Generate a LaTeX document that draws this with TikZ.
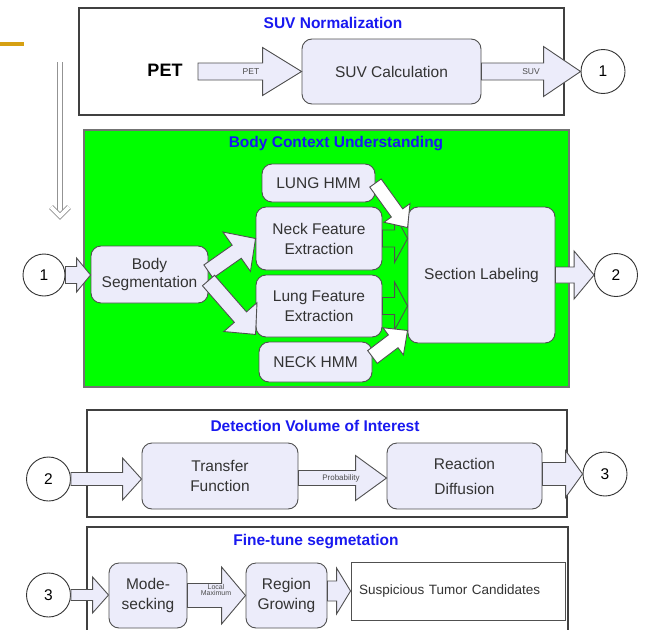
\documentclass[tikz,border=0pt]{standalone}
\usepackage{fontspec}
\setmainfont{Liberation Sans}
\usetikzlibrary{arrows.meta,positioning,calc}

\definecolor{lav}{RGB}{236,236,250}
\definecolor{ttlblue}{RGB}{25,25,240}
\definecolor{bodygreen}{RGB}{0,255,0}
\definecolor{edge}{RGB}{80,80,80}
\definecolor{gold}{RGB}{214,160,18}

\newcommand{\boxfont}{\fontsize{15.5pt}{20pt}\selectfont}
\newcommand{\ttlfont}{\fontsize{15.5pt}{18pt}\selectfont\bfseries}
\newcommand{\tagfont}{\fontsize{8.5pt}{9pt}\selectfont}

\tikzset{
  fatshaft/.store in=\fatsw, fathead/.store in=\fathw, fatlen/.store in=\fathl,
  fatshaft=8pt, fathead=24pt, fatlen=22pt,
  % fat block arrow, drawn as one outline from start to target
  fat/.style={draw=edge, line width=0.9pt, line join=miter, fill=lav, to path={
    let \p1=(\tikztostart), \p2=(\tikztotarget),
        \n1={atan2(\y2-\y1,\x2-\x1)}, \n2={veclen(\x2-\x1,\y2-\y1)},
        \n3={\n1+180-atan2(\fathw,\fathl)}, \n4={veclen(\fathw,\fathl)} in
    (\p1) ++(\n1-90:\fatsw) -- ++(\n1:{\n2-\fathl}) -- ++(\n1-90:{\fathw-\fatsw})
    -- (\p2) -- ++(\n3:\n4) -- ++(\n1-90:{\fathw-\fatsw}) -- ++(\n1+180:{\n2-\fathl}) -- cycle}},
  stage/.style={draw=black!75, line width=1.1pt, fill=white, inner sep=0pt, outer sep=0pt},
  proc/.style={draw=edge, line width=0.9pt, fill=lav, rounded corners=10pt,
    align=center, font=\boxfont, text=black!80, inner sep=0pt},
  outcome/.style={draw=edge, line width=0.9pt, fill=white, align=left,
    font=\fontsize{13.5pt}{16pt}\selectfont, text=black!80, inner xsep=8pt, inner ysep=0pt},
  conn/.style={draw=black!80, line width=0.9pt, fill=white, circle, minimum size=44pt,
    inner sep=0pt, font=\boxfont},
  ttl/.style={text=ttlblue, font=\ttlfont},
  tag/.style={text=black!70, font=\tagfont},
  flow/.style={draw=gray!85, line width=0.9pt, double=white, double distance=3.6pt,
    line join=miter}
}

\begin{document}
\begin{tikzpicture}[x=1pt, y=-1pt]
\useasboundingbox (0,0) rectangle (645,629);
\clip (0,0) rectangle (645,629);

\coordinate (barL) at (0,44);
\coordinate (barR) at (24,44);
\draw [gold, line width=4pt] (barL) -- (barR);

% downward flow marker
\coordinate (flowtop) at (60,62);
\coordinate (flowbot) at (60,216);
\draw [flow] (flowtop) -- ($(flowbot)+(0,-3)$);
\draw [flow] ($(flowbot)+(-9,-9)$) -- (flowbot) -- ($(flowbot)+(9,-9)$);

%% SUV normalization
\node (normbox) [stage, minimum width=485pt, minimum height=107pt] at (321.5,61.5) {};
\node (normT) [ttl] at (333,23) {SUV Normalization};
\node (petlbl) [font=\fontsize{18pt}{20pt}\selectfont\bfseries] at (165,70) {PET};
\coordinate (petin) at (198,71.5);
\node (suvcalc) [proc, minimum width=179pt, minimum height=65pt] at (391.5,71.5) {SUV Calculation};
\node (c1) [conn] at (603,71.5) {1};

\draw [fat, fatshaft=8.5pt, fathead=24pt, fatlen=39pt] (petin) to (suvcalc.west);
\draw [fat, fatshaft=8.5pt, fathead=25pt, fatlen=37pt] (suvcalc.east) to (c1.west);
\node (pettag) [tag] at (251,72) {PET};
\node (suvtag) [tag] at (531,72) {SUV};

%% body context
\node (bodybox) [stage, draw=black!55, fill=bodygreen, line width=1.6pt,
  minimum width=485pt, minimum height=257pt] at (326.5,258.5) {};
\node (bodyT) [ttl] at (336,144) {Body Context Understanding};
\node (c1b) [conn, minimum size=42pt] at (44,275) {1};
\node (bodyseg) [proc, minimum width=117pt, minimum height=57pt,
  font=\fontsize{15.5pt}{18pt}\selectfont] at (149.5,274.5) {Body\\Segmentation};
\node (lunghmm) [proc, minimum width=113pt, minimum height=38pt] at (318.5,183) {LUNG HMM};
\node (neckfe) [proc, minimum width=126pt, minimum height=63pt] at (319,238.5) {Neck Feature\\Extraction};
\node (lungfe) [proc, minimum width=126pt, minimum height=62pt] at (319,306) {Lung Feature\\Extraction};
\node (neckhmm) [proc, minimum width=113pt, minimum height=40pt] at (315.5,362) {NECK HMM};
\node (section) [proc, minimum width=147pt, minimum height=136pt] at (481.5,275) {Section Labeling};
\node (c2) [conn, minimum size=43pt] at (616,275) {2};

\draw [fat, fatshaft=8.5pt, fathead=17pt, fatlen=14pt] (c1b.east) to (bodyseg.west |- c1b);
\draw [fat, fatshaft=8pt, fathead=24pt, fatlen=23pt] ($(bodyseg.east)+(0,-3)$) to (neckfe.west);
\draw [fat, fatshaft=8pt, fathead=22pt, fatlen=23pt] ($(bodyseg.east)+(0,6)$) to ($(lungfe.south west)+(0,-3)$);
\draw [fat, fill=none, fatshaft=8.5pt, fathead=24pt, fatlen=13pt] (neckfe.east) to (section.west |- neckfe.east);
\draw [fat, fill=none, fatshaft=8.5pt, fathead=24pt, fatlen=13pt] (lungfe.east) to (section.west |- lungfe.east);
\draw [fat, fill=white, fatshaft=7pt, fathead=16pt, fatlen=18pt] (lunghmm.east) to ($(section.north west)+(0,21)$);
\draw [fat, fill=white, fatshaft=8pt, fathead=17pt, fatlen=18pt] ($(neckhmm.east)+(0,-5)$) to ($(section.south west)+(0,-13)$);
\draw [fat, fatshaft=8pt, fathead=24pt, fatlen=20pt] (section.east) to (c2.west);

%% detection VOI
\node (detbox) [stage, minimum width=480pt, minimum height=107pt] at (327,463.5) {};
\node (detT) [ttl] at (315,426) {Detection Volume of Interest};
\node (c2b) [conn] at (48.5,479) {2};
\node (transfer) [proc, minimum width=156pt, minimum height=66pt] at (220,476) {Transfer\\Function};
\node (reaction) [proc, minimum width=155pt, minimum height=66pt,
  font=\fontsize{15.5pt}{25pt}\selectfont] at (464.5,476) {Reaction\\Diffusion};
\node (c3) [conn] at (605,474) {3};

\draw [fat, fatshaft=6.5pt, fathead=21pt, fatlen=19pt] (c2b.east) to (transfer.west |- c2b);
\draw [fat, fatshaft=7.5pt, fathead=22.5pt, fatlen=31pt] ($(transfer.east)+(0,2)$) to ($(reaction.west)+(0,2)$);
\draw [fat, fatshaft=11.5pt, fathead=23.5pt, fatlen=17pt] (reaction.east |- c3) to (c3.west);
\node (probtag) [tag, font=\fontsize{8pt}{9pt}\selectfont] at (341,478) {Probability};

%% fine-tune
\node (finebox) [stage, minimum width=481pt, minimum height=120pt] at (327.5,587) {};
\node (fineT) [ttl] at (316,542) {Fine-tune segmetation};
\node (c3b) [conn] at (48.5,595) {3};
\node (mode) [proc, minimum width=78pt, minimum height=65pt] at (148,595.5) {Mode-\\secking};
\node (region) [proc, minimum width=81pt, minimum height=65pt] at (286.5,595.5) {Region\\Growing};
\node (suspect) [outcome, minimum width=214pt, minimum height=58pt, text width=198pt] at (458,591)
  {Suspicious Tumor Candidates};

\draw [fat, fatshaft=5.5pt, fathead=18pt, fatlen=16pt] (c3b.east) to (mode.west |- c3b);
\draw [fat, fatshaft=12pt, fathead=28.5pt, fatlen=24pt] (mode.east) to (region.west);
\draw [fat, fatshaft=10pt, fathead=23pt, fatlen=14pt] (region.east |- suspect.west) to (suspect.west);
\node (maxtag) [tag, font=\fontsize{7pt}{6.5pt}\selectfont, align=center] at (216,590) {Local\\Maximum};

\end{tikzpicture}
\end{document}
